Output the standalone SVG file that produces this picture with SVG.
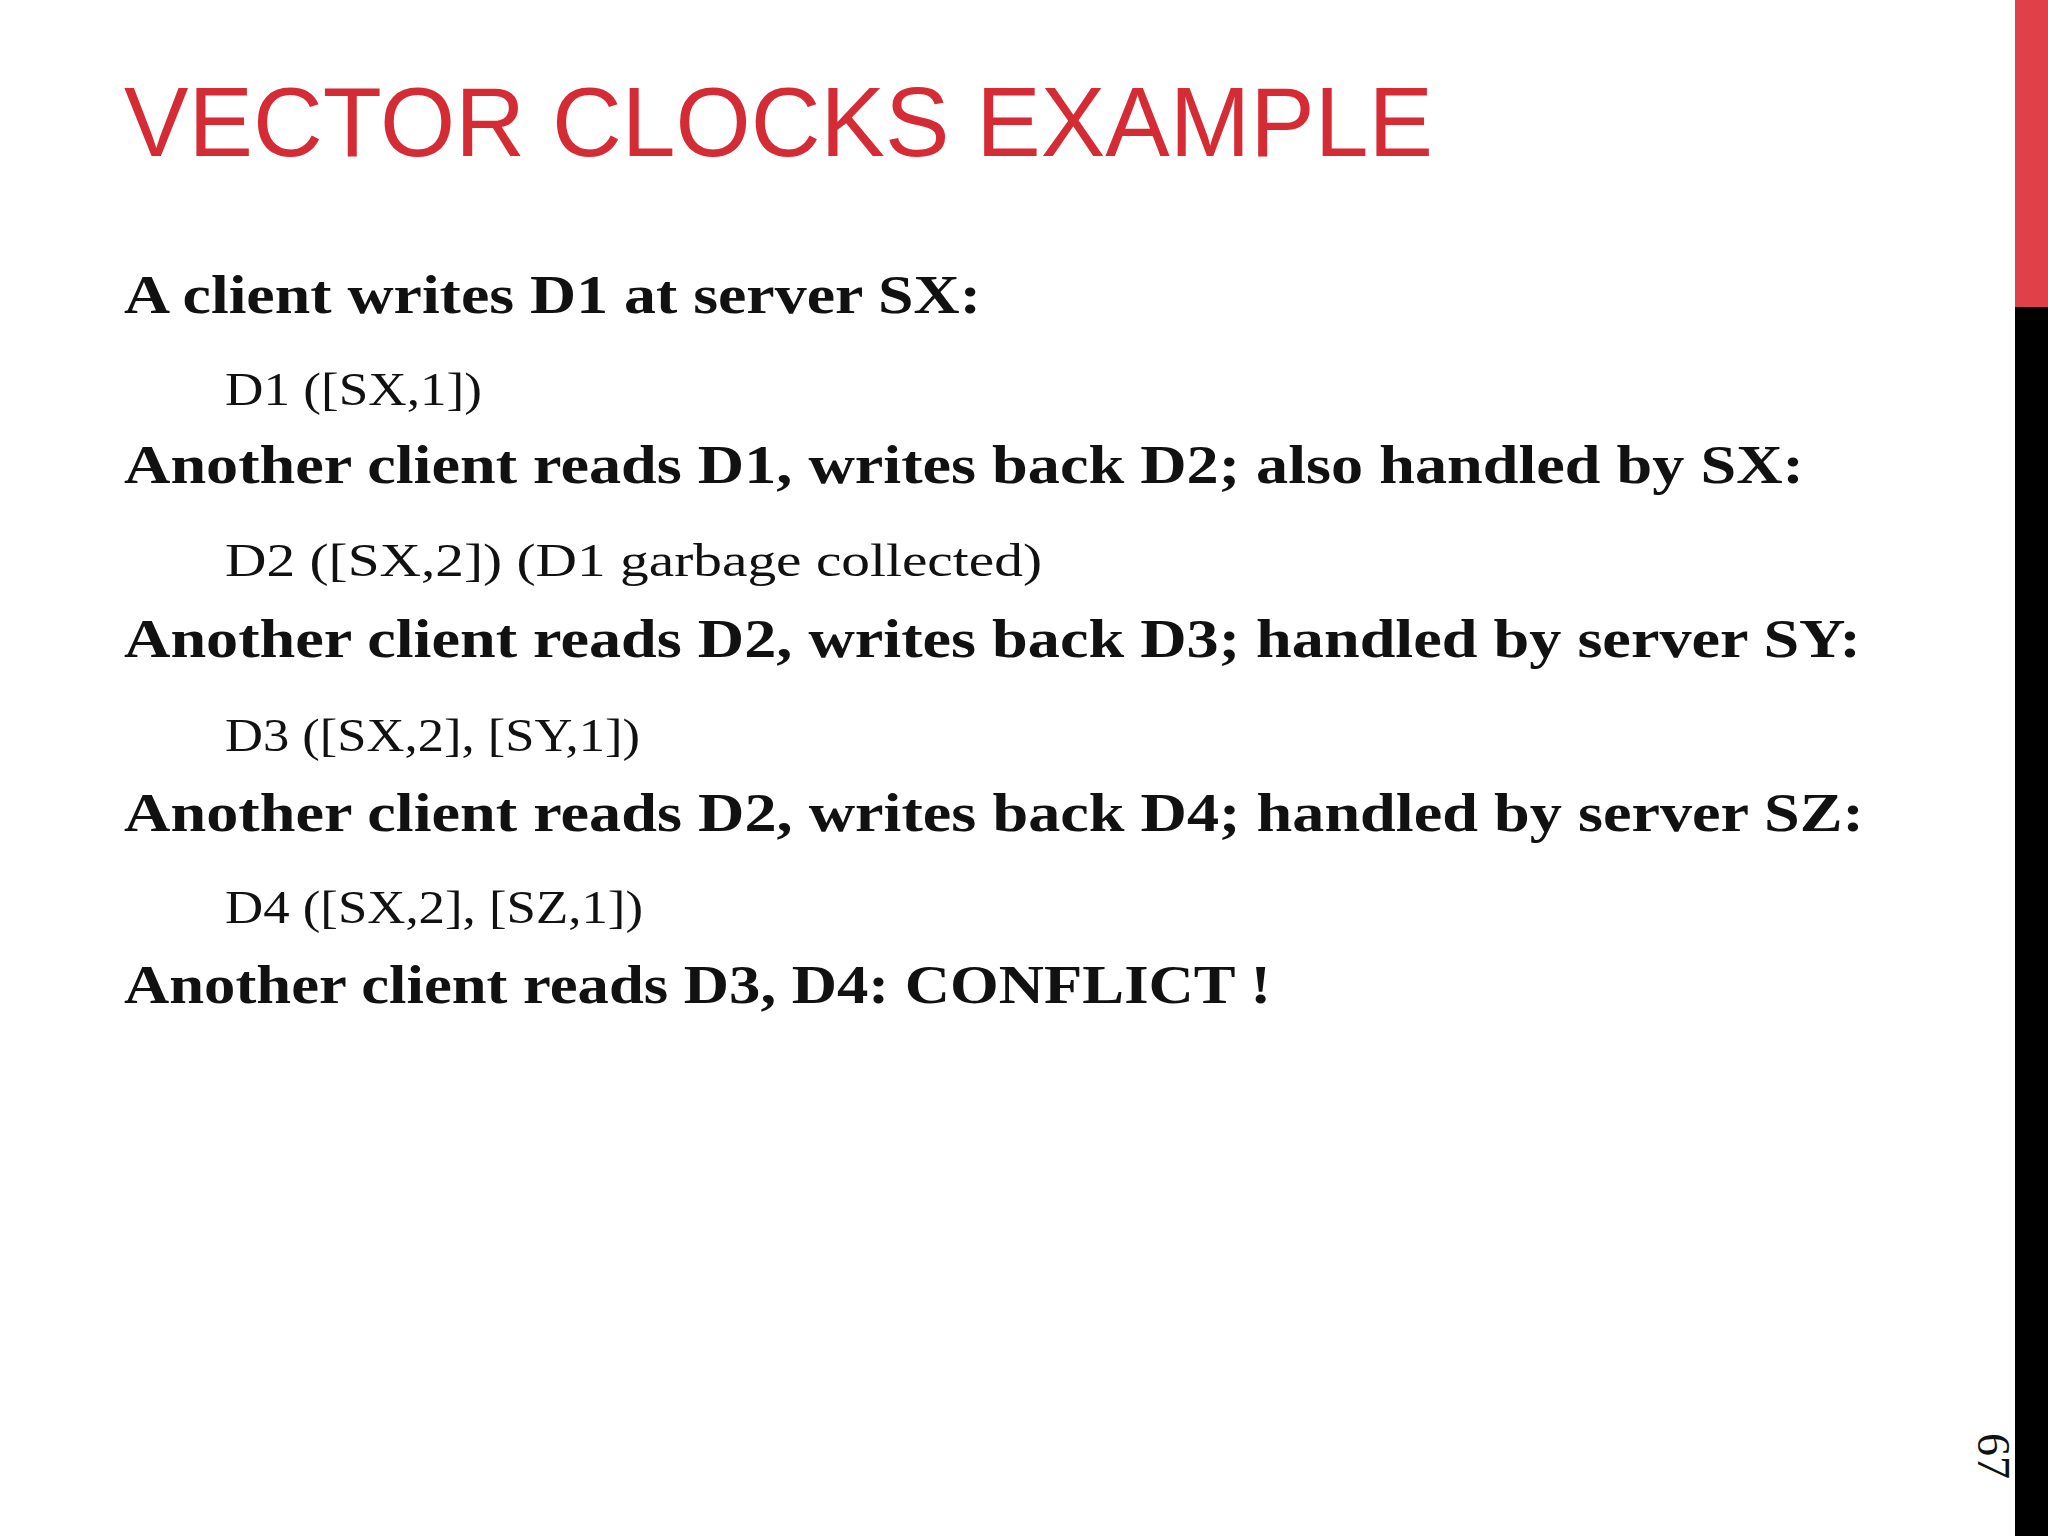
<svg xmlns="http://www.w3.org/2000/svg" width="2048" height="1536" viewBox="0 0 2048 1536">
<style>
.t{font-family:"Liberation Sans",Arial,sans-serif;font-size:98px;fill:#d42b34}
.b{font-family:"Liberation Serif","Times New Roman",serif;font-weight:bold;font-size:54px;fill:#111}
.r{font-family:"Liberation Serif","Times New Roman",serif;font-size:46px;fill:#111}
</style>
<rect width="2048" height="1536" fill="#fff"/>
<rect x="2015" y="0" width="33" height="307" fill="#e04048"/>
<rect x="2015" y="307" width="33" height="1229" fill="#000"/>
<text class="t" x="124" y="156" textLength="1309" lengthAdjust="spacingAndGlyphs">VECTOR CLOCKS EXAMPLE</text>
<g id="lines">
<text class="b" x="124" y="313" textLength="857" lengthAdjust="spacingAndGlyphs">A client writes D1 at server SX:</text>
<text class="r" x="225" y="405" textLength="257" lengthAdjust="spacingAndGlyphs">D1 ([SX,1])</text>
<text class="b" x="124" y="483" textLength="1680" lengthAdjust="spacingAndGlyphs">Another client reads D1, writes back D2; also handled by SX:</text>
<text class="r" x="225" y="576" textLength="817" lengthAdjust="spacingAndGlyphs">D2 ([SX,2]) (D1 garbage collected)</text>
<text class="b" x="124" y="657" textLength="1737" lengthAdjust="spacingAndGlyphs">Another client reads D2, writes back D3; handled by server SY:</text>
<text class="r" x="225" y="751" textLength="415" lengthAdjust="spacingAndGlyphs">D3 ([SX,2], [SY,1])</text>
<text class="b" x="124" y="831" textLength="1740" lengthAdjust="spacingAndGlyphs">Another client reads D2, writes back D4; handled by server SZ:</text>
<text class="r" x="225" y="923" textLength="418" lengthAdjust="spacingAndGlyphs">D4 ([SX,2], [SZ,1])</text>
<text class="b" x="124" y="1003" textLength="1147" lengthAdjust="spacingAndGlyphs">Another client reads D3, D4: CONFLICT !</text>
</g>
<text x="1978" y="1456" transform="rotate(90 1978 1456)" text-anchor="middle" font-family="Liberation Serif,serif" font-size="46" fill="#111">67</text>
</svg>
